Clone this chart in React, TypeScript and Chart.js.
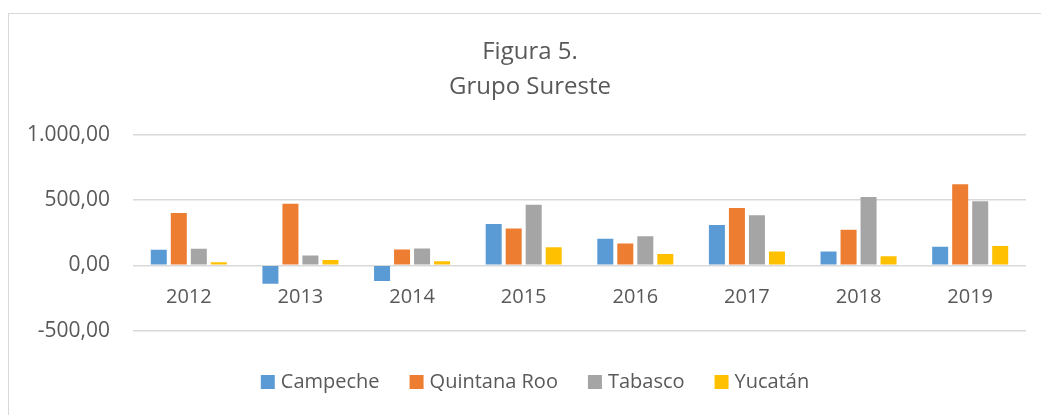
import React, { useEffect, useRef } from "react";
import { Chart, registerables } from "chart.js";

Chart.register(...registerables);

const categories = ["2012", "2013", "2014", "2015", "2016", "2017", "2018", "2019"];
const campeche = [120, -140, -120, 316, 204, 309, 107, 143];
const quintanaRoo = [400, 472, 122, 283, 168, 439, 273, 620];
const tabasco = [128, 76, 130, 464, 222, 383, 523, 490];
const yucatan = [23, 41, 31, 138, 87, 107, 69, 148];
const yTickValues = [-500, 0, 500, 1000];
const seriesNames = ["Campeche", "Quintana Roo", "Tabasco", "Yucatán"];
const titleLines = ["Figura 5.", "Grupo Sureste"];

const COLORS = ["#5B9BD5", "#ED7D31", "#A5A5A5", "#FFC000"];
const TEXT = "#595959";
const FONT = "'Open Sans', 'Noto Sans', sans-serif";

function formatEs(v: number): string {
  const neg = v < 0;
  const abs = Math.abs(v);
  const intPart = Math.floor(abs).toString();
  const withDots = intPart.replace(/\B(?=(\d{3})+(?!\d))/g, ".");
  const dec = Math.round((abs - Math.floor(abs)) * 100)
    .toString()
    .padStart(2, "0");
  return (neg ? "-" : "") + withDots + "," + dec;
}

const shiftLegend = {
  id: "shiftLegend",
  afterLayout(chart: any) {
    const lg = chart.legend;
    if (lg) {
      lg.left += 7;
      lg.right += 7;
    }
  },
};

export default function App() {
  const canvasRef = useRef<HTMLCanvasElement | null>(null);

  useEffect(() => {
    document.body.style.margin = "0";
    document.documentElement.style.overflow = "hidden";
    const canvas = canvasRef.current;
    if (!canvas) return;
    const series = [campeche, quintanaRoo, tabasco, yucatan];
    const chart = new Chart(canvas, {
      type: "bar",
      data: {
        labels: categories,
        datasets: series.map((d, i) => ({
          label: seriesNames[i],
          data: d,
          backgroundColor: COLORS[i],
          borderWidth: 0,
          categoryPercentage: 0.717,
          barPercentage: 0.8,
          yAxisID: "y",
        })),
      },
      plugins: [shiftLegend],
      options: {
        responsive: false,
        maintainAspectRatio: false,
        devicePixelRatio: 1,
        animation: false,
        layout: { padding: { left: 20, right: 1, top: 0, bottom: 13 } },
        plugins: {
          title: {
            display: true,
            text: titleLines,
            color: TEXT,
            font: { family: FONT, size: 24, weight: "normal", lineHeight: 1.45 },
            padding: { top: 34.6, bottom: 30.5 },
          },
          subtitle: {
            display: true,
            text: "",
            position: "bottom",
            weight: 500,
            padding: 0,
            font: { family: FONT, size: 7.3, lineHeight: 1 },
          },
          legend: {
            position: "bottom",
            labels: {
              color: TEXT,
              font: { family: FONT, size: 20 },
              usePointStyle: true,
              pointStyle: "rect",
              boxWidth: 6,
              boxHeight: 14,
              padding: 34,
            },
          },
          tooltip: { enabled: false },
        },
        scales: {
          x: {
            axis: "x",
            type: "category",
            position: { y: 0 } as any,
            grid: { display: false, drawTicks: false },
            border: { display: false },
            ticks: {
              color: TEXT,
              font: { family: FONT, size: 20 },
              padding: 20,
              maxRotation: 0,
              autoSkip: false,
            },
          },
          y: {
            type: "linear",
            position: "left",
            min: -500,
            max: 1000,
            afterFit: (scale: any) => {
              scale.width = 113;
            },
            afterBuildTicks: (scale: any) => {
              scale.ticks = yTickValues.map((v) => ({ value: v }));
            },
            grid: { color: "#d9d9d9", lineWidth: 1.5, drawTicks: false },
            border: { display: false },
            ticks: {
              color: TEXT,
              font: { family: FONT, size: 21 },
              padding: 23,
              callback: (v: any) => formatEs(Number(v)),
            },
          },
          yRight: {
            type: "linear",
            position: "right",
            min: -500,
            max: 1000,
            afterFit: (scale: any) => {
              scale.width = 14;
            },
            grid: { display: false, drawTicks: false },
            border: { display: false },
            ticks: { display: false },
          },
        },
      },
    });
    return () => chart.destroy();
  }, []);

  return (
    <div style={{ position: "relative", width: 1041, height: 415, overflow: "hidden", background: "#fff" }}>
      <div
        style={{
          position: "absolute",
          left: 8,
          top: 13,
          width: 1100,
          height: 500,
          border: "1px solid #d9d9d9",
          boxSizing: "border-box",
        }}
      />
      <canvas
        ref={canvasRef}
        width={1041}
        height={415}
        style={{ position: "absolute", left: 0, top: 0, width: 1041, height: 415 }}
      />
    </div>
  );
}
